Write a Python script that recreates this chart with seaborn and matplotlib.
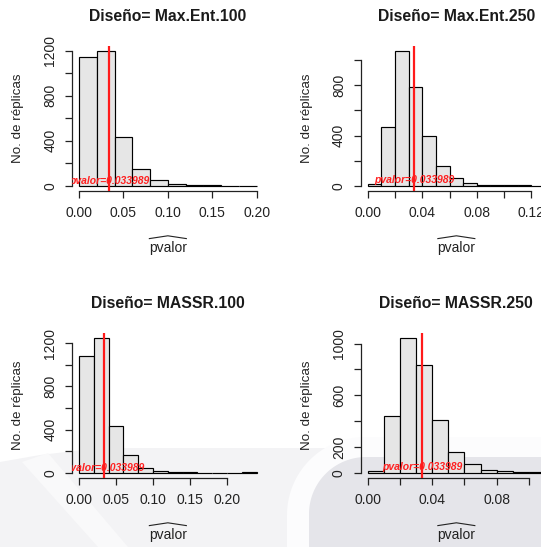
import numpy as np
import pandas as pd
import matplotlib
matplotlib.use("Agg")
import matplotlib.pyplot as plt
import seaborn as sns
from matplotlib.patches import Polygon
from matplotlib.lines import Line2D

plt.rcParams['font.family'] = ['Liberation Sans', 'DejaVu Sans']

# ---- data -------------------------------------------------------------
titles = ['Diseño= Max.Ent.100', 'Diseño= Max.Ent.250',
          'Diseño= MASSR.100', 'Diseño= MASSR.250']
bin_widths = [0.02, 0.01, 0.02, 0.01]

counts_maxent100 = [1150, 1195, 430, 145, 55, 15, 4, 3, 1, 2]
counts_maxent250 = [10, 470, 1070, 790, 395, 160, 65, 22, 8, 4, 3, 2, 1]
counts_massr100 = [1082, 1243, 434, 164, 40, 19, 7, 3, 2, 2, 1, 3]
counts_massr250 = [10, 440, 1040, 835, 410, 158, 68, 20, 11, 5, 3]
all_counts = [counts_maxent100, counts_maxent250, counts_massr100, counts_massr250]

pvalor = 0.033989

x_ticks = [[0.00, 0.05, 0.10, 0.15, 0.20],
           [0.00, 0.02, 0.04, 0.06, 0.08, 0.10, 0.12],
           [0.00, 0.05, 0.10, 0.15, 0.20],
           [0.00, 0.02, 0.04, 0.06, 0.08, 0.10]]
x_tick_labels = [['0.00', '0.05', '0.10', '0.15', '0.20'],
                 ['0.00', '', '0.04', '', '0.08', '', '0.12'],
                 ['0.00', '0.05', '0.10', '0.15', '0.20'],
                 ['0.00', '', '0.04', '', '0.08', '']]
y_ticks = [[0, 200, 400, 600, 800, 1000, 1200],
           [0, 200, 400, 600, 800, 1000],
           [0, 200, 400, 600, 800, 1000, 1200],
           [0, 200, 400, 600, 800, 1000]]
y_tick_labels = [['0', '', '400', '', '800', '', '1200'],
                 ['0', '', '400', '', '800', ''],
                 ['0', '', '400', '', '800', '', '1200'],
                 ['0', '200', '', '600', '', '1000']]

# ---- figure -----------------------------------------------------------
W, H = 541, 547
fig = plt.figure(figsize=(W / 100, H / 100), dpi=100)
fig.patch.set_facecolor('white')


def fx(x):
    return x / W


def fy(y):
    return 1 - y / H


# faint page background shapes behind the lower panels
light = Polygon([(fx(0), fy(462)), (fx(40), fy(455)), (fx(100), fy(448)),
                 (fx(541), fy(448)), (fx(541), fy(547)), (fx(0), fy(547))],
                closed=True, transform=fig.transFigure, facecolor='#f3f3f5',
                edgecolor='none', zorder=-3)
fig.patches.append(light)
band = Polygon([(fx(22), fy(462)), (fx(48), fy(453)), (fx(128), fy(547)), (fx(98), fy(547))],
               closed=True, transform=fig.transFigure, facecolor='#f9f9fa',
               edgecolor='none', zorder=-2)
fig.patches.append(band)


def rounded_corner(cx, cy, r, left, top):
    th = np.linspace(0, np.pi / 2, 30)
    pts = [(fx(cx - r * np.sin(t)), fy(cy - r * np.cos(t))) for t in th]
    pts = [(fx(541), fy(top))] + pts + [(fx(left), fy(547)), (fx(541), fy(547))]
    return pts


white_band = Polygon(rounded_corner(365, 515, 78, 287, 437), closed=True,
                     transform=fig.transFigure, facecolor='#fcfcfd',
                     edgecolor='none', zorder=-2)
fig.patches.append(white_band)
dark = Polygon(rounded_corner(366, 514, 57, 309, 457), closed=True,
               transform=fig.transFigure, facecolor='#e5e5ea',
               edgecolor='none', zorder=-1)
fig.patches.append(dark)

# plot regions (left, bottom) in pixels
lefts = [72, 360.5, 72, 360.5]
bottoms = [191.1, 191.1, 478.1, 478.1]
pw, ph = 191.7, 145.0

xlabels = []
for i in range(4):
    counts = np.array(all_counts[i], dtype=float)
    bw = bin_widths[i]
    edges = [round(k * bw, 4) for k in range(len(counts) + 1)]
    centers = [(edges[k] + edges[k + 1]) / 2 for k in range(len(counts))]
    df = pd.DataFrame({'pvalor': centers, 'n': counts})

    ax = fig.add_axes([fx(lefts[i]), fy(bottoms[i]), fx(pw), ph / H])
    ax.set_facecolor('none')
    sns.histplot(data=df, x='pvalor', weights='n', bins=edges, ax=ax,
                 color='#e6e6e6', edgecolor='black', linewidth=0.85, alpha=1)

    xmax = edges[-1]
    ymax = counts.max()
    ax.set_xlim(-0.04 * xmax, 1.04 * xmax)
    ax.set_ylim(-0.04 * ymax, 1.04 * ymax)

    ax.axvline(pvalor, color='#ff1a1a', lw=1.6, zorder=5)
    ax.text(pvalor, 45, f'pvalor={pvalor}', color='#ff2020', fontsize=7.5,
            fontweight='bold', fontstyle='italic', ha='center', va='center',
            clip_on=True, zorder=6)

    for s in ['top', 'right']:
        ax.spines[s].set_visible(False)
    ax.spines['left'].set_bounds(y_ticks[i][0], y_ticks[i][-1])
    ax.spines['bottom'].set_bounds(x_ticks[i][0], x_ticks[i][-1])
    for s in ['left', 'bottom']:
        ax.spines[s].set_linewidth(0.9)
        ax.spines[s].set_color('#222222')

    ax.set_xticks(x_ticks[i], x_tick_labels[i])
    ax.set_yticks(y_ticks[i], y_tick_labels[i])
    ax.tick_params(direction='out', length=5, width=0.9, color='#222222',
                   labelsize=10, labelcolor='#222222', pad=5.5)
    for lab in ax.get_yticklabels():
        lab.set_rotation(90)
        lab.set_va('center')
    ax.set_xlabel('')
    ax.set_ylabel('')

    cx = lefts[i] + pw / 2
    top = bottoms[i] - ph
    fig.text(fx(cx), fy(top - 25.3), titles[i], fontsize=11.3,
             fontweight='bold', ha='center', va='baseline', color='#1a1a1a')
    fig.text(fx(lefts[i] - 53.5), fy(bottoms[i] - ph / 2), 'No. de réplicas',
             fontsize=9.6, rotation=90, ha='center', va='center', color='#222222')
    xl = fig.text(fx(cx), fy(bottoms[i] + 57), 'pvalor', fontsize=10,
                  ha='center', va='center', color='#222222')
    xlabels.append(xl)

# wide hat over each x label
fig.canvas.draw()
renderer = fig.canvas.get_renderer()
for xl in xlabels:
    bb = xl.get_window_extent(renderer)
    x0, x1 = bb.x0 + 0.5, bb.x1 - 0.5
    ytop = bb.y1
    xs = [x0 / W, (x0 + x1) / 2 / W, x1 / W]
    ys = [(ytop + 2.5) / H, (ytop + 5.3) / H, (ytop + 2.5) / H]
    fig.add_artist(Line2D(xs, ys, transform=fig.transFigure, color='#222222', lw=0.8))

fig.savefig('out.png', dpi=100)
